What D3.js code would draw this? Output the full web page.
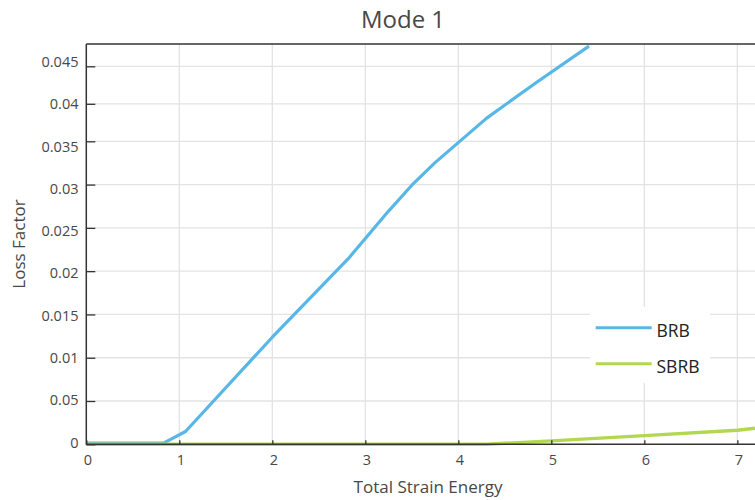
<!DOCTYPE html>
<html>
<head>
<meta charset="utf-8">
<script src="https://cdn.jsdelivr.net/npm/d3@7"></script>
<style>
  html, body { margin: 0; padding: 0; background: #fff; }
  svg { display: block; font-family: "Open Sans", "Noto Sans", sans-serif; }
</style>
</head>
<body>
<svg id="chart" width="755" height="500"></svg>
<script>
// ---- data ----
const chartTitle = "Mode 1";
const xAxisTitle = "Total Strain Energy";
const yAxisTitle = "Loss Factor";
const seriesNames = ["BRB", "SBRB"];
const seriesColors = ["#58b7e6", "#b3d84f"];

const energyBRB = [0, 0.83, 1.067, 2.0, 2.814, 3.25, 3.5, 3.75, 4.305, 4.843, 5.405];
const lossBRB   = [0, 0, 0.00134, 0.01223, 0.02127, 0.0268, 0.02979, 0.0324, 0.03793, 0.04272, 0.04753];

const energySBRB = [0, 4.3, 5, 6, 7, 7.19];
const lossSBRB   = [0, 0, 0.0004, 0.001, 0.00162, 0.00185];

const xTickValues = [0, 1, 2, 3, 4, 5, 6, 7];
const yTickValues = [0, 0.005, 0.01, 0.015, 0.02, 0.025, 0.03, 0.035, 0.04, 0.045];
const yTickLabels = ["0", "0.05", "0.01", "0.015", "0.02", "0.025", "0.03", "0.035", "0.04", "0.045"];

// ---- layout ----
const pLeft = 86.3, pRight = 755, pTop = 44, pBottom = 444.3;

const svg = d3.select("#chart");

const x = d3.scaleLinear().domain([0, 7.19]).range([pLeft, pRight]);
// grid/tick scale (upper part is compressed in the reference)
const y = d3.scaleLinear().domain([0, 0.035, 0.045]).range([pBottom, 141.3, 66.3]);
// tick labels are evenly spaced in the reference
const yLab = d3.scaleLinear().domain([0, 0.045]).range([442.3, 62]);

const gridColor = "#e3e3e3";
const axisColor = "#333333";
const textColor = "#484848";

// grid
const grid = svg.append("g");
grid.selectAll("line.vg").data(xTickValues.filter(d => d > 0)).join("line")
  .attr("x1", d => x(d)).attr("x2", d => x(d))
  .attr("y1", pTop).attr("y2", pBottom)
  .attr("stroke", gridColor).attr("stroke-width", 1.3);
grid.selectAll("line.hg").data(yTickValues.filter(d => d > 0)).join("line")
  .attr("x1", pLeft).attr("x2", pRight)
  .attr("y1", d => y(d)).attr("y2", d => y(d))
  .attr("stroke", gridColor).attr("stroke-width", 1.3);

// clip
svg.append("clipPath").attr("id", "clip").append("rect")
  .attr("x", pLeft).attr("y", pTop - 5).attr("width", pRight - pLeft).attr("height", pBottom - pTop + 10);

// lines
const line = d3.line().x(d => x(d[0])).y(d => y(d[1]));
const brb = energyBRB.map((e, i) => [e, lossBRB[i]]);
const sbrb = energySBRB.map((e, i) => [e, lossSBRB[i]]);

const plot = svg.append("g").attr("clip-path", "url(#clip)");
plot.append("path").datum(brb).attr("d", line)
  .attr("fill", "none").attr("stroke", seriesColors[0]).attr("stroke-width", 3.2)
  .attr("stroke-linejoin", "round").attr("transform", "translate(0,-1.2)");
plot.append("path").datum(sbrb).attr("d", line)
  .attr("fill", "none").attr("stroke", seriesColors[1]).attr("stroke-width", 3.4)
  .attr("stroke-linejoin", "round");

// axes
const xAxis = d3.axisBottom(x).tickValues(xTickValues).tickSizeInner(-4).tickSizeOuter(0).tickPadding(10)
  .tickFormat(d3.format("d"));
const gx = svg.append("g").attr("transform", `translate(0,${pBottom})`).call(xAxis);
gx.select(".domain").remove();
gx.selectAll(".tick line").attr("stroke", axisColor).attr("stroke-width", 1.3);
gx.selectAll(".tick text").attr("fill", textColor).attr("font-size", 14.5)
  .attr("font-family", "Open Sans, sans-serif").attr("dx", 1);

const yAxis = d3.axisRight(y).tickValues(yTickValues).tickSizeInner(9).tickSizeOuter(0).tickFormat("");
const gy = svg.append("g").attr("transform", `translate(${pLeft},0)`).call(yAxis);
gy.select(".domain").remove();
gy.selectAll(".tick line").attr("stroke", axisColor).attr("stroke-width", 1.3);

svg.append("g").selectAll("text").data(yTickValues).join("text")
  .attr("x", 78.5).attr("y", d => yLab(d)).attr("dy", "0.36em")
  .attr("text-anchor", "end").attr("fill", textColor).attr("font-size", 14.5)
  .text((d, i) => yTickLabels[i]);

// axis lines and top border
svg.append("line").attr("x1", pLeft).attr("x2", pLeft).attr("y1", pTop).attr("y2", pBottom + 0.5)
  .attr("stroke", axisColor).attr("stroke-width", 1.5);
svg.append("line").attr("x1", pLeft).attr("x2", pRight).attr("y1", pBottom).attr("y2", pBottom)
  .attr("stroke", axisColor).attr("stroke-width", 1.5);
svg.append("line").attr("x1", pLeft).attr("x2", pRight).attr("y1", pTop).attr("y2", pTop)
  .attr("stroke", axisColor).attr("stroke-width", 1.3);

// titles
svg.append("text").attr("x", 403).attr("y", 28.3).attr("text-anchor", "middle")
  .attr("fill", textColor).attr("font-size", 24).text(chartTitle);
svg.append("text").attr("x", 428).attr("y", 492.5).attr("text-anchor", "middle")
  .attr("fill", textColor).attr("font-size", 17).text(xAxisTitle);
svg.append("text").attr("transform", "translate(24.5,244) rotate(-90)").attr("text-anchor", "middle")
  .attr("fill", textColor).attr("font-size", 17).text(yAxisTitle);

// legend
const lg = svg.append("g");
lg.append("rect").attr("x", 590).attr("y", 307).attr("width", 120).attr("height", 76).attr("fill", "#fff");
const legendY = [327.7, 363.7];
seriesNames.forEach((n, i) => {
  lg.append("line").attr("x1", 595.7).attr("x2", 651.7).attr("y1", legendY[i]).attr("y2", legendY[i])
    .attr("stroke", seriesColors[i]).attr("stroke-width", 3);
  lg.append("text").attr("x", 656.5).attr("y", legendY[i] + 4).attr("dy", "0.3em")
    .attr("fill", "#222").attr("font-size", 17.5).text(n);
});
</script>
</body>
</html>
